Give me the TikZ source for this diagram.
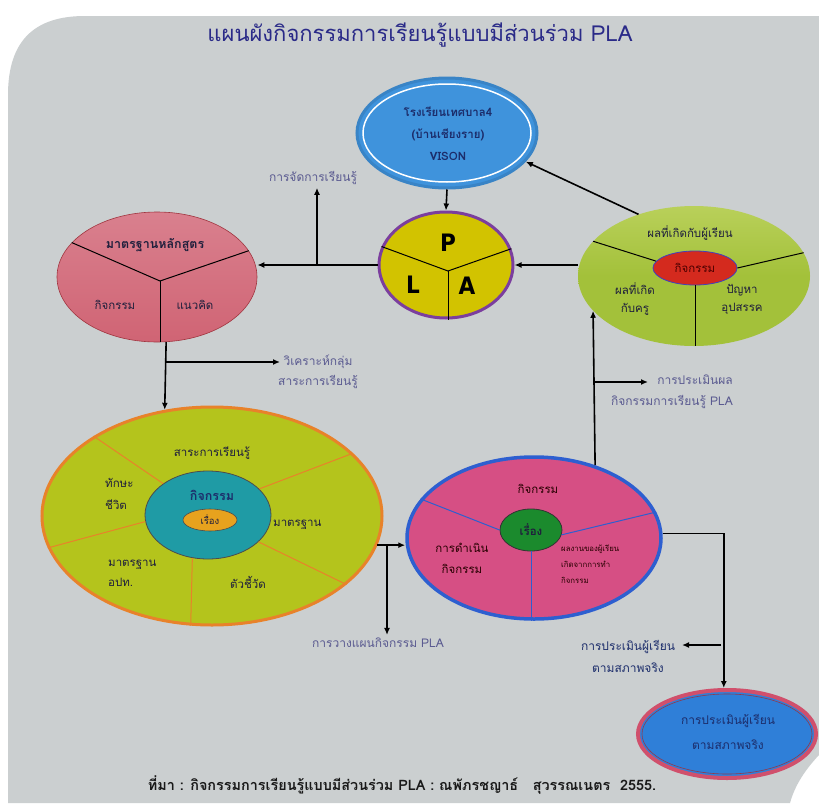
\documentclass[tikz,border=0pt]{standalone}
\usepackage{fontspec}
\setmainfont{Loma}[Script=Thai]
\newfontfamily\plafont{DejaVu Sans Condensed}
\usetikzlibrary{shapes.geometric,arrows.meta}
\definecolor{bgc}{HTML}{CBCFD0}
\definecolor{titlec}{HTML}{2A2A88}
\definecolor{lblc}{HTML}{5A5A90}
\definecolor{txtc}{HTML}{1F1F3C}
\definecolor{visfill}{HTML}{3F93DC}
\definecolor{visnavy}{HTML}{1C2D6B}
\definecolor{plafill}{HTML}{D2C300}
\definecolor{plaedge}{HTML}{7B3E9E}
\definecolor{grnA}{HTML}{B9D05A}
\definecolor{grnB}{HTML}{A3C13A}
\definecolor{actred}{HTML}{D42A1E}
\definecolor{redA}{HTML}{D9808E}
\definecolor{redB}{HTML}{C8424F}
\definecolor{redC}{HTML}{D06474}
\definecolor{bigfill}{HTML}{B4C41C}
\definecolor{bigedge}{HTML}{E8822A}
\definecolor{tealc}{HTML}{1F9BA5}
\definecolor{orgc}{HTML}{E7A21E}
\definecolor{pinkc}{HTML}{D64F84}
\definecolor{pinkedge}{HTML}{2D5FD0}
\definecolor{gcent}{HTML}{1B8A2D}
\definecolor{botfill}{HTML}{2F7FD8}
\definecolor{botedge}{HTML}{D0506C}
\begin{document}
\begin{tikzpicture}[x=1pt,y=-1pt,
  conn/.style={line width=1.6pt, black, -{Latex[length=7pt,width=6pt]}},
  oval/.style={ellipse, inner sep=0pt},
  lbl/.style={text=lblc, font=\fontsize{12}{20}\selectfont, align=center, inner sep=0pt},
  itx/.style={text=txtc, font=\fontsize{11.5}{19}\selectfont, align=center, inner sep=0pt},
  divline/.style={line width=1pt}
]
\fill[white] (0,0) rectangle (819,803);
\fill[bgc] (8,803) -- (8,95) .. controls (8,40) and (35,16) .. (85,16) -- (819,16) -- (819,755) .. controls (805,770) and (795,785) .. (790,803) -- cycle;
\useasboundingbox (0,0) rectangle (819,803);

% title
\node[text=titlec, font=\fontsize{22}{26}\selectfont, inner sep=0pt] (title) at (420,35) {แผนผังกิจกรรมการเรียนรู้แบบมีส่วนร่วม PLA};

% vision
\node[oval, minimum width=180pt, minimum height=110pt, fill=visfill, draw=visfill!90!black, line width=3pt] (vision) at (447,133) {};
\draw[white, line width=1.5pt] (vision.center) ellipse [x radius=84pt, y radius=49pt];
\node[itx, text=visnavy, font=\bfseries\fontsize{11.5}{22}\selectfont] (visiontxt) at (448,134) {โรงเรียนเทศบาล4\\(บ้านเชียงราย)\\VISON};

% PLA
\node[oval, minimum width=134pt, minimum height=106pt, fill=plafill, draw=plaedge, line width=3pt] (pla) at (446,265) {};
\coordinate (plac) at (448,271);
\draw[divline] (pla.164) -- (plac) -- (pla.14);
\draw[divline] (plac) -- (plac |- pla.south);
\node[font=\plafont\bfseries\fontsize{24}{24}\selectfont, inner sep=0pt] (P) at (448,243) {P};
\node[font=\plafont\bfseries\fontsize{24}{24}\selectfont, inner sep=0pt] (L) at (413,285) {L};
\node[font=\plafont\bfseries\fontsize{24}{24}\selectfont, inner sep=0pt] (A) at (467,286) {A};

% green
\node[oval, minimum width=232pt, minimum height=140pt, top color=grnA, bottom color=grnB, middle color=grnB] (green) at (694,276) {};
\node[oval, minimum width=84pt, minimum height=34pt, fill=actred, draw=blue!50!gray, line width=0.8pt] (act) at (695,268) {};
\draw[divline] (act.170) -- (green.161);
\draw[divline] (act.east) -- (green.12);
\draw[divline] (act.south) -- (act.south |- green.south);
\node[itx, text=red!30!black] (acttxt) at (act) {กิจกรรม};
\node[itx] (g1) at (690,233) {ผลที่เกิดกับผู้เรียน};
\node[itx, font=\fontsize{11.5}{18}\selectfont] (g2) at (635,299) {ผลที่เกิด\\กับครู};
\node[itx, font=\fontsize{11.5}{18}\selectfont] (g3) at (742,299) {ปัญหา\\อุปสรรค};

% red std
\node[oval, minimum width=200pt, minimum height=130pt, top color=redA, middle color=redB, bottom color=redC, draw=redB!80!black, line width=0.6pt] (std) at (157,277) {};
\coordinate (stdc) at (160,281);
\draw[divline] (std.158) -- (stdc) -- (std.16);
\draw[divline] (stdc) -- (stdc |- std.south);
\node[itx, font=\bfseries\fontsize{12.5}{16}\selectfont] (s1) at (155,245) {มาตรฐานหลักสูตร};
\node[itx] (s2) at (115,305) {กิจกรรม};
\node[itx] (s3) at (195,305) {แนวคิด};

% big
\node[oval, minimum width=340pt, minimum height=218pt, fill=bigfill, draw=bigedge, line width=3pt] (big) at (212,516) {};
\node[oval, minimum width=126pt, minimum height=88pt, fill=tealc, draw=black!70, line width=0.8pt] (teal) at (208,515) {};
\node[oval, minimum width=54pt, minimum height=22pt, fill=orgc, draw=black!70, line width=0.6pt] (org) at (210,520) {};
\draw[bigedge, divline] (teal.145) -- (big.146);
\draw[bigedge, divline] (teal.27) -- (big.24);
\draw[bigedge, divline] (teal.-174) -- (big.-169);
\draw[bigedge, divline] (teal.-28) -- (big.-27);
\draw[bigedge, divline] (teal.-110) -- (big.-101);
\node[itx, text=visnavy, font=\bfseries\fontsize{12.5}{16}\selectfont] (b0) at (212,495) {กิจกรรม};
\node[itx, font=\fontsize{9.5}{12}\selectfont] (b00) at (org) {เรื่อง};
\node[itx] (b1) at (212,453) {สาระการเรียนรู้};
\node[itx, align=left, anchor=west, font=\fontsize{11.5}{22}\selectfont] (b2) at (105,494) {ทักษะ\\ชีวิต};
\node[itx, anchor=west] (b3) at (273,525) {มาตรฐาน};
\node[itx, align=left, anchor=west, font=\fontsize{11.5}{20}\selectfont] (b4) at (108,573) {มาตรฐาน\\อปท.};
\node[itx] (b5) at (248,582) {ตัวชี้วัด};

% pink
\node[oval, minimum width=254pt, minimum height=162pt, fill=pinkc, draw=pinkedge, line width=3.5pt] (pink) at (534,538) {};
\node[oval, minimum width=62pt, minimum height=42pt, fill=gcent, draw=black!80, line width=0.8pt] (gc) at (531,530) {};
\draw[pinkedge, divline] (gc.west) -- (pink.161);
\draw[pinkedge, divline] (gc.-9) -- (pink.12);
\draw[pinkedge, divline] (gc.south) -- (gc.south |- pink.south);
\node[itx, font=\bfseries\fontsize{11.5}{14}\selectfont] (p0) at (gc) {เรื่อง};
\node[itx, text=black!85!red] (p1) at (538,489) {กิจกรรม};
\node[itx, text=black!85!red, font=\fontsize{11.5}{21}\selectfont] (p2) at (462,558) {การดำเนิน\\กิจกรรม};
\node[itx, text=black!85!red, align=left, anchor=west, font=\fontsize{7.8}{16}\selectfont] (p3) at (561,564) {ผลงานของผู้เรียน\\เกิดจากการทำ\\กิจกรรม};

% bottom
\node[oval, minimum width=178pt, minimum height=88pt, fill=botfill, draw=botedge, line width=4pt] (bot) at (727,734) {};
\draw[botedge!70!black, line width=0.6pt] (bot.center) ellipse [x radius=85pt, y radius=40pt];
\node[itx, text=visnavy, font=\fontsize{12}{25}\selectfont] (bottxt) at (728,732) {การประเมินผู้เรียน\\ตามสภาพจริง};

% side labels
\node[lbl] (ljad) at (313,178) {การจัดการเรียนรู้};
\node[lbl] (lwi) at (318,372) {วิเคราะห์กลุ่ม\\สาระการเรียนรู้};
\node[lbl] (lwang) at (378,643) {การวางแผนกิจกรรม PLA};
\node[lbl, align=right, anchor=east, font=\fontsize{12}{21}\selectfont] (lpm) at (733,392) {การประเมินผล\\กิจกรรมการเรียนรู้ PLA};
\node[lbl, text=visnavy, font=\fontsize{12}{22}\selectfont] (lpmr) at (628,656) {การประเมินผู้เรียน\\ตามสภาพจริง};

% footer
\node[text=black!90, font=\bfseries\fontsize{14.4}{16}\selectfont, inner sep=0pt] (footer) at (402,785) {ที่มา : กิจกรรมการเรียนรู้แบบมีส่วนร่วม PLA : ณพัภรชญาธ์ \ \ สุวรรณเนตร \ 2555.};

% connectors
\draw[conn] (vision.south) -- (pla.north);
\draw[conn] (green.132) -- (vision.-20);
\draw[conn] (green.west |- pla.east) -- (pla.east);
\coordinate (jb) at (317,265);
\draw[conn] (pla.west) -- (pla.west -| std.east);
\draw[conn, shorten >=3pt] (jb) -- (jb |- ljad.south);
\draw[conn] (std.-82) -- (big.114);
\coordinate (wb) at (166,362);
\coordinate (wend) at (280,362);
\draw[conn] (wb) -- (wend);
\draw[conn] (big.-10) -- (big.-10 -| pink.west);
\coordinate (vb) at (387,546);
\draw[conn, shorten >=3pt] (vb) -- (vb |- lwang.north);
\draw[conn] (pink.50) -- (green.-161);
\coordinate (pb) at (593,382);
\coordinate (pend) at (648,382);
\draw[conn] (pb) -- (pend);
\draw[conn] (pink.2) -| (bot.94);
\coordinate (rb) at (721,645);
\coordinate (rend) at (682,645);
\draw[conn] (rb) -- (rend);
\end{tikzpicture}
\end{document}
